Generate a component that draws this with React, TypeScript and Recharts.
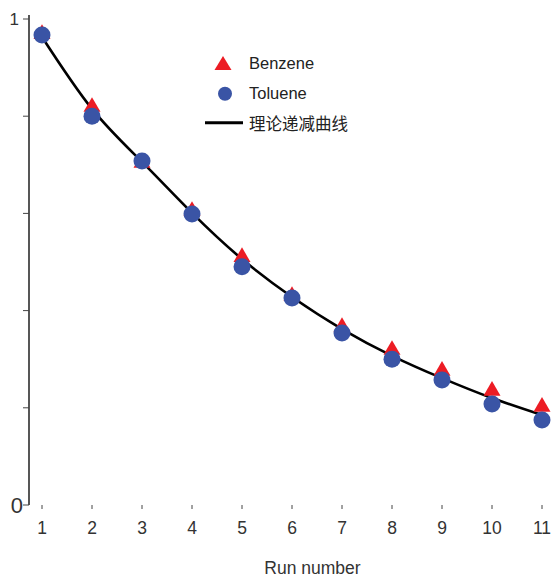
import { ComposedChart, Line, Scatter, XAxis, YAxis, Legend } from 'recharts'

const runs = [1, 2, 3, 4, 5, 6, 7, 8, 9, 10, 11]
const benzene = [0.969, 0.819, 0.704, 0.605, 0.51, 0.43, 0.366, 0.319, 0.276, 0.235, 0.202]
const toluene = [0.967, 0.8, 0.708, 0.599, 0.49, 0.426, 0.354, 0.3, 0.257, 0.208, 0.175]
const curve = [0.963, 0.815, 0.706, 0.601, 0.506, 0.428, 0.362, 0.307, 0.261, 0.22, 0.185]
const yTicks = [0, 0.2, 0.4, 0.6, 0.8, 1]

const RED = '#ec1c24'
const BLUE = '#3a54a5'
const FONT = '"Liberation Sans", Arial, sans-serif'

const data = runs.map((run, i) => ({
  run,
  benzene: benzene[i],
  toluene: toluene[i],
  curve: curve[i],
}))

const Triangle = (p: any) => (
  <polygon
    points={`${p.cx},${p.cy - 9.8} ${p.cx + 8.5},${p.cy + 4.9} ${p.cx - 8.5},${p.cy + 4.9}`}
    fill={RED}
  />
)

const Dot = (p: any) => <circle cx={p.cx} cy={p.cy} r={8.5} fill={BLUE} />

const YTick = (p: any) => {
  const v = p.payload.value
  if (v !== 0 && v !== 1) return null
  return (
    <text
      x={v === 0 ? p.x + 2 : p.x - 2}
      y={p.y}
      dy="0.36em"
      textAnchor="end"
      fontSize={v === 0 ? 22 : 17}
      fill="#333"
      fontFamily={FONT}
    >
      {v}
    </text>
  )
}

const rows = [
  { name: 'Benzene', kind: 'tri' },
  { name: 'Toluene', kind: 'dot' },
  { name: '理论递减曲线', kind: 'line' },
]

const renderLegend = () => (
  <div>
    {rows.map((r) => (
      <div key={r.name} style={{ display: 'flex', alignItems: 'center', height: 29.5 }}>
        <svg width={46} height={29.5}>
          {r.kind === 'tri' && <polygon points="20,7 28.5,21 11.5,21" fill={RED} />}
          {r.kind === 'dot' && <circle cx={22} cy={14.75} r={7} fill={BLUE} />}
          {r.kind === 'line' && <line x1={2} x2={40} y1={14.75} y2={14.75} stroke="#000" strokeWidth={3} />}
        </svg>
        <span
          style={{
            fontSize: 16.5,
            color: '#222',
            fontFamily: r.kind === 'line' ? '"Noto Sans CJK SC", sans-serif' : FONT,
          }}
        >
          {r.name}
        </span>
      </div>
    ))}
  </div>
)

export default function App() {
  return (
    <div style={{ position: 'absolute', left: 0, top: 0, background: '#fff' }}>
      <ComposedChart width={557} height={579} data={data} margin={{ top: 15, right: 15, bottom: 0, left: 0 }}>
        <XAxis
          dataKey="run"
          type="number"
          domain={[1, 11]}
          ticks={runs}
          padding={{ left: 13, right: 0 }}
          axisLine={false}
          tickSize={4}
          tickMargin={13}
          tickLine={{ stroke: '#444' }}
          height={74}
          tick={{ fontSize: 17.5, fill: '#333', fontFamily: FONT }}
          label={{
            value: 'Run number',
            position: 'insideBottom',
            offset: 5,
            dx: 27,
            fontSize: 17.5,
            fill: '#333',
            fontFamily: FONT,
          }}
        />
        <YAxis
          type="number"
          domain={[0, 1]}
          ticks={yTicks}
          padding={{ top: 4 }}
          width={29}
          tickSize={6}
          axisLine={{ stroke: '#444', strokeWidth: 1.8 }}
          tickLine={{ stroke: '#444' }}
          tick={<YTick />}
        />
        <Legend
          layout="horizontal"
          verticalAlign="middle"
          align="center"
          content={renderLegend}
          wrapperStyle={{ position: 'absolute', left: 203, top: 49, width: 'auto' }}
        />
        <Scatter dataKey="benzene" shape={Triangle} isAnimationActive={false} />
        <Scatter dataKey="toluene" shape={Dot} isAnimationActive={false} />
        <Line
          dataKey="curve"
          type="natural"
          stroke="#000"
          strokeWidth={2.6}
          dot={false}
          isAnimationActive={false}
        />
      </ComposedChart>
    </div>
  )
}
